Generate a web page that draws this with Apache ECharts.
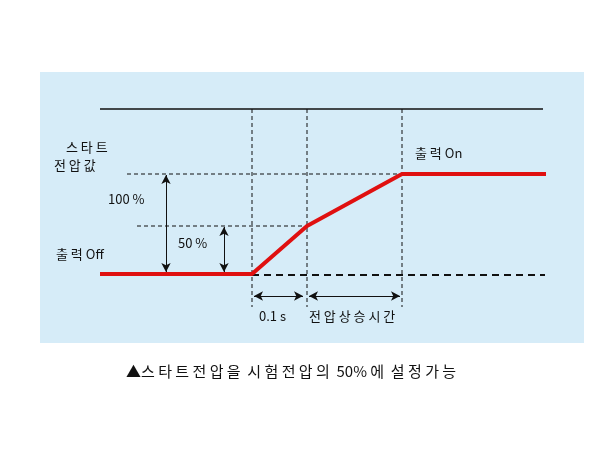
<!DOCTYPE html><html><head><meta charset="utf-8"><script src="https://cdn.jsdelivr.net/npm/echarts@6/dist/echarts.min.js"></script></head><body style="margin:0"><div id="c" style="width:600px;height:450px"></div><script>
// diagram units (time-like x, voltage-like y)
var redX = [100, 252, 307, 402, 546];
var redY = [274, 274, 226, 174, 174];
var topLine = [[100,109],[543,109]];
var offDash = [[252,275],[545,275]];
var vDashX = [252, 307, 402];
var hDash100 = [[127,174],[402,174]];
var hDash50 = [[137,226],[307,226]];
var arrows = [[[166,175],[166,272]],[[224,227],[224,272]],[[254,296],[303,296]],[[309,296],[400,296]]];
var F = '"Noto Sans CJK KR", sans-serif';
var ch = echarts.init(document.getElementById('c'));
function seg(d, color, w, type){return {type:'line',data:d,symbol:'none',silent:true,lineStyle:{color:color,width:w,type:type||'solid'},animation:false};}
var series = [];
series.push({type:'line',data:[],markArea:{silent:true,itemStyle:{color:'#d6ecf8'},data:[[{coord:[40,72]},{coord:[584,343]}]]}});
series.push(seg(topLine,'#111',1.5));
vDashX.forEach(function(x){series.push(seg([[x,109],[x,307]],'#111',1,[4,3]));});
series.push(seg(hDash100,'#111',1,[4,3]));
series.push(seg(hDash50,'#111',1,[4,3]));
series.push(seg(offDash,'#111',2,[7,5]));
series.push(seg(redX.map(function(x,i){return [x,redY[i]];}),'#e01010',4));
series.push({type:'line',data:[],markLine:{silent:true,symbol:['arrow','arrow'],symbolSize:[7,9],lineStyle:{color:'#111',width:1,type:'solid'},label:{show:false},data:arrows.map(function(a){return [{coord:a[0]},{coord:a[1]}];})}});
function t(x,y,s,size){return {type:'text',z:100,left:x,top:y,style:{text:s,font:(size||13)+'px '+F,fill:'#111'}};}
ch.setOption({
 animation:false,
 grid:{left:0,right:0,top:0,bottom:0},
 xAxis:{type:'value',min:0,max:600,show:false},
 yAxis:{type:'value',min:0,max:450,inverse:true,show:false},
 series:series,
 graphic:[t(66,141,'스 타 트'),t(54,159,'전 압 값'),t(108,193,'100 %'),t(178,237,'50 %'),t(56,248,'출 력 Off'),t(415,147,'출 력 On'),t(259,310,'0.1 s'),t(309,310,'전 압 상 승 시 간'),t(126,364,'▲스 타 트 전 압 을  시 험 전 압 의  50% 에  설 정 가 능',15)]
});
</script></body></html>
